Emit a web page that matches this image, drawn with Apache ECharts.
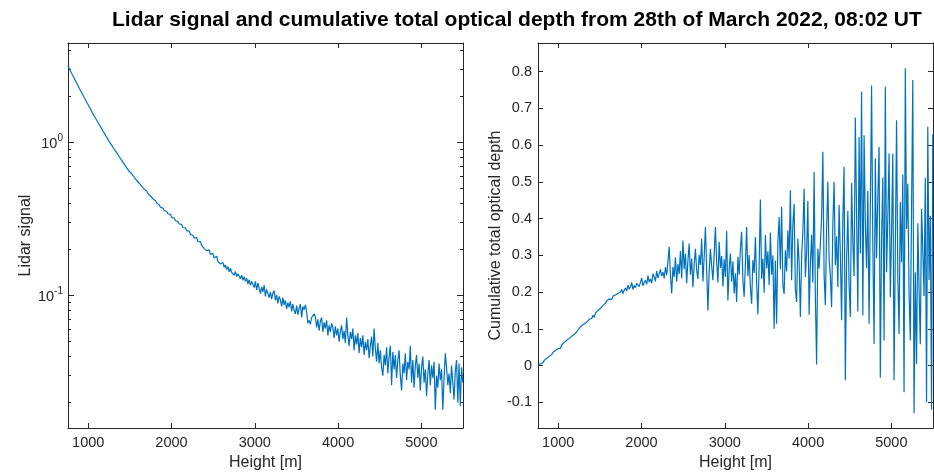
<!DOCTYPE html>
<html><head><meta charset="utf-8">
<script src="https://cdn.jsdelivr.net/npm/echarts@6/dist/echarts.min.js"></script>
<style>html,body{margin:0;padding:0;background:#fff}#c{width:934px;height:473px}</style>
</head><body><div id="c"></div>
<script>
// ---- data ----
const heightStart = 757.5;   // m, first range bin
const heightStep = 15;       // m, range resolution of the samples below

const lidarSignal = [
  3.162, 3.048, 2.938, 2.831, 2.729, 2.630, 2.535, 2.443, 2.355, 2.270,
  2.193, 2.118, 2.042, 1.972, 1.905, 1.837, 1.774, 1.714, 1.652, 1.596,
  1.542, 1.493, 1.445, 1.400, 1.355, 1.312, 1.271, 1.230, 1.191, 1.156,
  1.119, 1.084, 1.050, 1.016, 0.986, 0.959, 0.931, 0.906, 0.881, 0.857,
  0.834, 0.809, 0.787, 0.766, 0.745, 0.724, 0.703, 0.684, 0.671, 0.650,
  0.634, 0.626, 0.615, 0.594, 0.586, 0.566, 0.559, 0.543, 0.536, 0.518,
  0.511, 0.497, 0.490, 0.481, 0.466, 0.462, 0.448, 0.444, 0.430, 0.421,
  0.417, 0.403, 0.395, 0.392, 0.378, 0.372, 0.373, 0.360, 0.352, 0.355,
  0.343, 0.337, 0.340, 0.324, 0.318, 0.322, 0.309, 0.302, 0.305, 0.294,
  0.287, 0.292, 0.279, 0.273, 0.277, 0.266, 0.259, 0.264, 0.251, 0.246,
  0.248, 0.238, 0.234, 0.240, 0.225, 0.221, 0.226, 0.213, 0.215, 0.203,
  0.206, 0.197, 0.192, 0.199, 0.186, 0.183, 0.189, 0.176, 0.174, 0.181,
  0.167, 0.172, 0.161, 0.158, 0.165, 0.153, 0.159, 0.148, 0.155, 0.143,
  0.151, 0.142, 0.146, 0.136, 0.144, 0.133, 0.139, 0.137, 0.129, 0.136,
  0.126, 0.133, 0.124, 0.130, 0.119, 0.127, 0.117, 0.124, 0.121, 0.113,
  0.124, 0.109, 0.121, 0.118, 0.103, 0.114, 0.106, 0.117, 0.099, 0.110,
  0.113, 0.097, 0.106, 0.095, 0.104, 0.108, 0.093, 0.101, 0.089, 0.099,
  0.094, 0.085, 0.097, 0.087, 0.093, 0.082, 0.090, 0.084, 0.092, 0.079,
  0.088, 0.080, 0.076, 0.086, 0.075, 0.083, 0.088, 0.072, 0.085, 0.081,
  0.087, 0.078, 0.066, 0.069, 0.065, 0.072, 0.071, 0.076, 0.073, 0.062,
  0.070, 0.059, 0.068, 0.072, 0.058, 0.067, 0.061, 0.069, 0.055, 0.064,
  0.058, 0.066, 0.062, 0.053, 0.063, 0.055, 0.061, 0.050, 0.058, 0.064,
  0.052, 0.059, 0.049, 0.072, 0.055, 0.047, 0.058, 0.052, 0.061, 0.044,
  0.055, 0.048, 0.057, 0.042, 0.053, 0.046, 0.055, 0.041, 0.050, 0.044,
  0.052, 0.039, 0.047, 0.054, 0.040, 0.061, 0.045, 0.037, 0.049, 0.036,
  0.044, 0.034, 0.030, 0.041, 0.035, 0.046, 0.031, 0.040, 0.047, 0.026,
  0.043, 0.033, 0.041, 0.029, 0.038, 0.044, 0.030, 0.024, 0.036, 0.031,
  0.042, 0.028, 0.037, 0.033, 0.047, 0.027, 0.038, 0.025, 0.035, 0.041,
  0.029, 0.036, 0.024, 0.034, 0.040, 0.027, 0.033, 0.022, 0.031, 0.038,
  0.026, 0.035, 0.029, 0.037, 0.018, 0.030, 0.025, 0.036, 0.028, 0.033,
  0.018, 0.029, 0.042, 0.034, 0.026, 0.031, 0.023, 0.035, 0.027, 0.021,
  0.032, 0.038, 0.020, 0.036, 0.019, 0.034, 0.027
];

const opticalDepth = [
  0.000, 0.004, 0.005, 0.009, 0.008, 0.014, 0.015, 0.020, 0.019, 0.025,
  0.027, 0.030, 0.036, 0.035, 0.041, 0.039, 0.046, 0.049, 0.047, 0.056,
  0.053, 0.063, 0.061, 0.069, 0.066, 0.074, 0.072, 0.080, 0.078, 0.085,
  0.083, 0.092, 0.090, 0.101, 0.097, 0.109, 0.106, 0.113, 0.111, 0.118,
  0.116, 0.126, 0.122, 0.128, 0.137, 0.131, 0.143, 0.139, 0.150, 0.147,
  0.156, 0.153, 0.163, 0.161, 0.170, 0.176, 0.173, 0.181, 0.178, 0.180,
  0.189, 0.184, 0.192, 0.188, 0.197, 0.195, 0.200, 0.207, 0.196, 0.205,
  0.211, 0.203, 0.219, 0.208, 0.214, 0.226, 0.207, 0.218, 0.212, 0.224,
  0.229, 0.215, 0.220, 0.238, 0.217, 0.226, 0.232, 0.221, 0.245, 0.227,
  0.236, 0.224, 0.250, 0.241, 0.229, 0.257, 0.238, 0.233, 0.262, 0.244,
  0.254, 0.237, 0.268, 0.246, 0.283, 0.323, 0.247, 0.196, 0.268, 0.241,
  0.295, 0.228, 0.276, 0.249, 0.312, 0.238, 0.340, 0.262, 0.305, 0.224,
  0.286, 0.332, 0.247, 0.291, 0.213, 0.275, 0.318, 0.258, 0.236, 0.301,
  0.274, 0.345, 0.229, 0.296, 0.377, 0.262, 0.150, 0.253, 0.318, 0.271,
  0.232, 0.302, 0.377, 0.281, 0.226, 0.337, 0.266, 0.298, 0.215, 0.289,
  0.241, 0.366, 0.177, 0.262, 0.305, 0.228, 0.284, 0.196, 0.251, 0.173,
  0.296, 0.247, 0.318, 0.364, 0.232, 0.187, 0.276, 0.377, 0.243, 0.301,
  0.214, 0.168, 0.287, 0.252, 0.350, 0.226, 0.140, 0.268, 0.452, 0.236,
  0.291, 0.198, 0.355, 0.264, 0.311, 0.219, 0.362, 0.247, 0.300, 0.100,
  0.286, 0.114, 0.337, 0.404, 0.262, 0.432, 0.218, 0.195, 0.314, 0.256,
  0.368, 0.291, 0.477, 0.232, 0.385, 0.440, 0.208, 0.173, 0.346, 0.281,
  0.132, 0.297, 0.364, 0.482, 0.241, 0.310, 0.448, 0.138, 0.275, 0.356,
  0.226, 0.527, 0.189, 0.003, 0.318, 0.264, 0.331, 0.402, 0.582, 0.247,
  0.164, 0.371, 0.500, 0.288, 0.246, 0.159, 0.384, 0.500, 0.273, 0.352,
  0.214, 0.437, 0.305, 0.123, 0.398, 0.541, -0.039, 0.286, 0.421, 0.218,
  0.132, 0.497, 0.339, 0.244, 0.675, 0.412, 0.147, 0.622, 0.305, 0.745,
  0.136, 0.627, 0.382, 0.265, 0.475, 0.114, 0.430, 0.762, 0.328, 0.059,
  0.564, 0.292, 0.458, 0.595, -0.033, 0.347, 0.512, 0.068, 0.759, 0.254,
  0.403, 0.577, 0.186, 0.362, 0.577, -0.040, 0.318, 0.668, 0.243, 0.086,
  0.445, 0.281, 0.520, -0.073, 0.809, 0.372, 0.495, 0.198, 0.068, 0.426,
  0.777, -0.130, 0.254, 0.004, 0.387, 0.212, 0.058, 0.427, 0.316, 0.189,
  0.511, -0.100, 0.650, 0.233, 0.408, -0.120, 0.629
];

const xTickValues = [1000, 2000, 3000, 4000, 5000];
const odTickValues = [-0.1, 0, 0.1, 0.2, 0.3, 0.4, 0.5, 0.6, 0.7, 0.8];
const logMajorTicks = [0.1, 1];
const logMinorTicks = [0.02, 0.03, 0.04, 0.05, 0.06, 0.07, 0.08, 0.09,
                       0.2, 0.3, 0.4, 0.5, 0.6, 0.7, 0.8, 0.9, 2, 3, 4];
const xRange = [757.5, 5500];
const signalRange = [0.01365, 4.48];
const odRange = [-0.17, 0.878];

const titleText = 'Lidar signal and cumulative total optical depth from 28th of March 2022, 08:02 UT';
const xName = 'Height [m]';
const leftYName = 'Lidar signal';
const rightYName = 'Cumulative total optical depth';

// ---- chart ----
const FONT = '"Liberation Sans", Arial, Helvetica, sans-serif';
const AX = '#262626';
const LINE = '#0072BD';
const heights = lidarSignal.map((_, i) => heightStart + i * heightStep);
const lg = v => Math.log10(v);
const sigLog = [lg(signalRange[0]), lg(signalRange[1])];

const axLine = { show: true, onZero: false, lineStyle: { color: AX, width: 1 } };
const noLine = { show: false, onZero: false };
const tickStyle = { color: AX, width: 1 };
const labelStyle = { color: AX, fontSize: 14.5, fontFamily: FONT };
const nameStyle = { color: AX, fontSize: 16, fontFamily: FONT };

function xAxes(gridIndex) {
  return [
    { gridIndex, type: 'value', position: 'bottom', min: xRange[0], max: xRange[1],
      axisLine: axLine,
      axisTick: { show: true, inside: true, length: 5, customValues: xTickValues, lineStyle: tickStyle },
      axisLabel: Object.assign({ show: true, customValues: xTickValues, margin: 7,
                                 formatter: v => String(Math.round(v)) }, labelStyle),
      splitLine: { show: false },
      name: xName, nameLocation: 'middle', nameGap: 27, nameTextStyle: nameStyle },
    { gridIndex, type: 'value', position: 'top', min: xRange[0], max: xRange[1],
      axisLine: axLine,
      axisTick: { show: true, inside: true, length: 5, customValues: xTickValues, lineStyle: tickStyle },
      axisLabel: { show: false }, splitLine: { show: false } }
  ];
}

const option = {
  animation: false,
  backgroundColor: '#fff',
  title: {
    text: titleText, left: 107, top: 5,
    textStyle: { fontSize: 21, fontWeight: 'bold', color: '#000', fontFamily: FONT }
  },
  grid: [
    { left: 68, top: 43, width: 395, height: 385, containLabel: false, outerBoundsMode: 'none' },
    { left: 538, top: 43, width: 395, height: 385, containLabel: false, outerBoundsMode: 'none' }
  ],
  xAxis: [].concat(xAxes(0), xAxes(1)),
  yAxis: [
    // 0: logarithmic data axis of the left panel
    { gridIndex: 0, type: 'log', logBase: 10, min: signalRange[0], max: signalRange[1], show: false },
    // 1: left side labels (powers of ten) + minor ticks, drawn on the same decade scale
    { gridIndex: 0, type: 'value', position: 'left', min: sigLog[0], max: sigLog[1],
      axisLine: axLine,
      axisTick: { show: true, inside: true, length: 3, customValues: logMinorTicks.map(lg), lineStyle: tickStyle },
      axisLabel: {
        show: true, customValues: logMajorTicks.map(lg), margin: 5,
        formatter: v => '{b|10}{s|' + Math.round(v) + '}',
        rich: {
          b: { fontSize: 14.5, color: AX, fontFamily: FONT, verticalAlign: 'bottom' },
          s: { fontSize: 10, color: AX, fontFamily: FONT, verticalAlign: 'bottom', padding: [0, 0, 8, 0] }
        }
      },
      splitLine: { show: false },
      name: leftYName, nameLocation: 'middle', nameGap: 30, nameTextStyle: nameStyle },
    // 2: left major ticks
    { gridIndex: 0, type: 'value', position: 'left', min: sigLog[0], max: sigLog[1],
      axisLine: noLine,
      axisTick: { show: true, inside: true, length: 6, customValues: logMajorTicks.map(lg), lineStyle: tickStyle },
      axisLabel: { show: false }, splitLine: { show: false } },
    // 3: right box side with minor ticks
    { gridIndex: 0, type: 'value', position: 'right', min: sigLog[0], max: sigLog[1],
      axisLine: axLine,
      axisTick: { show: true, inside: true, length: 3, customValues: logMinorTicks.map(lg), lineStyle: tickStyle },
      axisLabel: { show: false }, splitLine: { show: false } },
    // 4: right major ticks
    { gridIndex: 0, type: 'value', position: 'right', min: sigLog[0], max: sigLog[1],
      axisLine: noLine,
      axisTick: { show: true, inside: true, length: 6, customValues: logMajorTicks.map(lg), lineStyle: tickStyle },
      axisLabel: { show: false }, splitLine: { show: false } },
    // 5: optical depth axis
    { gridIndex: 1, type: 'value', position: 'left', min: odRange[0], max: odRange[1],
      axisLine: axLine,
      axisTick: { show: true, inside: true, length: 5, customValues: odTickValues, lineStyle: tickStyle },
      axisLabel: Object.assign({ show: true, customValues: odTickValues, margin: 6 }, labelStyle),
      splitLine: { show: false },
      name: rightYName, nameLocation: 'middle', nameGap: 33, nameTextStyle: nameStyle },
    // 6: right box side of the optical depth panel
    { gridIndex: 1, type: 'value', position: 'right', min: odRange[0], max: odRange[1],
      axisLine: axLine,
      axisTick: { show: true, inside: true, length: 5, customValues: odTickValues, lineStyle: tickStyle },
      axisLabel: { show: false }, splitLine: { show: false } }
  ],
  series: [
    { name: leftYName, type: 'line', xAxisIndex: 0, yAxisIndex: 0,
      data: heights.map((h, i) => [h, lidarSignal[i]]),
      showSymbol: false, symbol: 'none', clip: true,
      lineStyle: { color: LINE, width: 1.2 }, itemStyle: { color: LINE } },
    { name: rightYName, type: 'line', xAxisIndex: 2, yAxisIndex: 5,
      data: heights.map((h, i) => [h, opticalDepth[i]]),
      showSymbol: false, symbol: 'none', clip: true,
      lineStyle: { color: LINE, width: 1.2 }, itemStyle: { color: LINE } }
  ]
};

const chart = echarts.init(document.getElementById('c'), null, { renderer: 'canvas', width: 934, height: 473 });
chart.setOption(option);
</script>
</body></html>
